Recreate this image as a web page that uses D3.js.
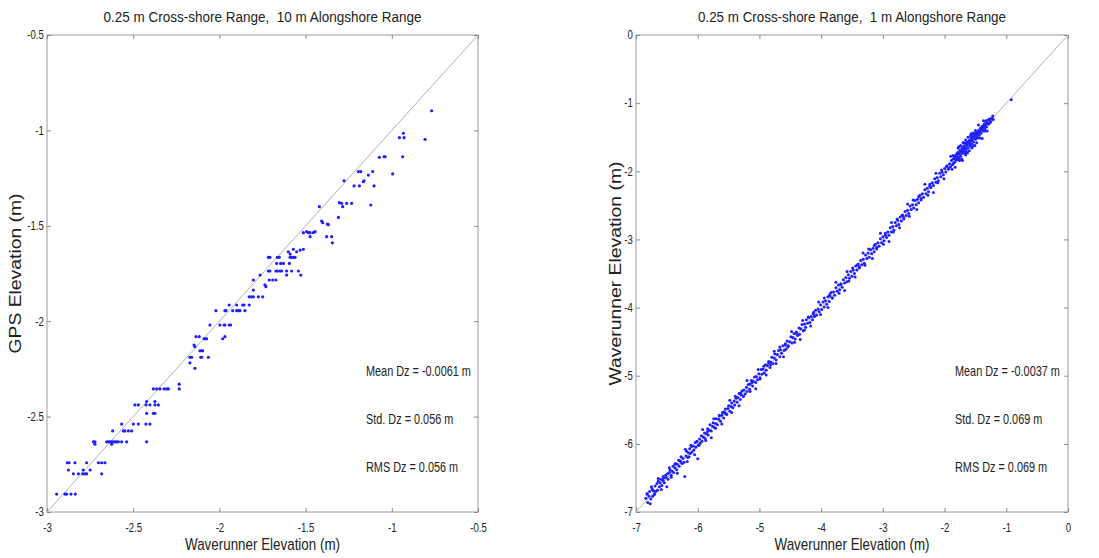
<!DOCTYPE html>
<html>
<head>
<meta charset="utf-8">
<script src="https://cdn.jsdelivr.net/npm/d3@7"></script>
<style>
  body { margin: 0; background: #fff; }
  svg { display: block; font-family: "Liberation Sans", Arial, sans-serif; }
</style>
</head>
<body>
<svg id="chart" width="1099" height="558"></svg>
<script>
const W = 1099, H = 558;

// left panel: GPS vs waverunner, 10 m alongshore window
const leftTicks = [-3, -2.5, -2, -1.5, -1, -0.5];
const leftTitle = '0.25 m Cross-shore Range,  10 m Alongshore Range';
const leftYLabel = 'GPS Elevation (m)';
const leftStats = ['Mean Dz = -0.0061 m', 'Std. Dz = 0.056 m', 'RMS Dz = 0.056 m'];
const leftPoints = [
  [-2.944,-2.906],[-2.896,-2.906],[-2.886,-2.906],[-2.861,-2.906],[-2.836,-2.906],
  [-2.847,-2.80],[-2.818,-2.80],[-2.793,-2.80],[-2.780,-2.80],[-2.770,-2.80],[-2.683,-2.80],
  [-2.876,-2.78],[-2.790,-2.78],[-2.750,-2.78],
  [-2.882,-2.742],[-2.872,-2.742],[-2.838,-2.742],[-2.770,-2.742],[-2.702,-2.742],[-2.683,-2.742],[-2.664,-2.742],
  [-2.722,-2.645],[-2.625,-2.645],
  [-2.731,-2.632],[-2.722,-2.632],[-2.654,-2.632],[-2.644,-2.632],[-2.635,-2.632],[-2.625,-2.632],[-2.615,-2.632],
  [-2.606,-2.632],[-2.596,-2.632],[-2.586,-2.632],[-2.567,-2.632],[-2.538,-2.632],[-2.422,-2.632],
  [-2.619,-2.575],[-2.557,-2.575],[-2.548,-2.575],[-2.528,-2.575],[-2.509,-2.575],
  [-2.567,-2.539],[-2.499,-2.539],[-2.470,-2.539],[-2.426,-2.539],[-2.403,-2.539],
  [-2.422,-2.483],[-2.383,-2.483],[-2.374,-2.483],
  [-2.490,-2.439],[-2.470,-2.439],[-2.426,-2.439],[-2.403,-2.439],[-2.374,-2.439],[-2.354,-2.439],
  [-2.422,-2.421],[-2.374,-2.421],
  [-2.383,-2.355],[-2.364,-2.355],[-2.345,-2.355],[-2.321,-2.355],[-2.306,-2.355],[-2.296,-2.355],[-2.233,-2.355],
  [-2.233,-2.33],[-2.142,-2.247],[-2.171,-2.218],
  [-2.171,-2.189],[-2.161,-2.189],[-2.108,-2.189],[-2.103,-2.189],[-2.064,-2.189],
  [-2.113,-2.155],[-2.103,-2.155],[-2.097,-2.155],[-2.142,-2.134],[-2.147,-2.125],
  [-2.089,-2.092],[-2.078,-2.092],[-2.074,-2.092],[-1.981,-2.092],
  [-2.136,-2.081],[-2.117,-2.081],[-1.968,-2.081],
  [-2.055,-2.02],[-1.997,-2.02],[-1.973,-2.02],[-1.968,-2.02],[-1.943,-2.02],[-1.935,-2.02],
  [-2.020,-1.945],[-1.968,-1.945],[-1.962,-1.945],[-1.923,-1.945],[-1.900,-1.945],[-1.890,-1.945],[-1.881,-1.945],[-1.852,-1.945],
  [-1.943,-1.915],[-1.900,-1.915],[-1.865,-1.915],[-1.857,-1.915],[-1.827,-1.915],
  [-1.827,-1.872],[-1.813,-1.872],[-1.803,-1.872],[-1.774,-1.872],[-1.749,-1.872],
  [-1.803,-1.837],[-1.736,-1.81],[-1.730,-1.819],
  [-1.803,-1.784],[-1.711,-1.784],[-1.691,-1.784],[-1.672,-1.784],
  [-1.764,-1.758],[-1.610,-1.758],[-1.528,-1.758],
  [-1.716,-1.737],[-1.707,-1.737],[-1.672,-1.737],[-1.664,-1.737],[-1.649,-1.737],[-1.639,-1.737],[-1.610,-1.737],[-1.581,-1.737],[-1.542,-1.737],
  [-1.668,-1.697],[-1.645,-1.697],[-1.629,-1.697],[-1.594,-1.697],
  [-1.716,-1.665],[-1.707,-1.665],[-1.664,-1.665],[-1.653,-1.665],[-1.590,-1.665],[-1.581,-1.665],[-1.571,-1.665],[-1.561,-1.665],
  [-1.600,-1.636],[-1.590,-1.648],[-1.571,-1.623],[-1.552,-1.636],[-1.532,-1.627],[-1.513,-1.623],
  [-1.345,-1.589],[-1.378,-1.557],[-1.349,-1.557],[-1.474,-1.557],
  [-1.513,-1.536],[-1.484,-1.536],[-1.455,-1.536],[-1.474,-1.536],[-1.494,-1.531],[-1.445,-1.531],
  [-1.368,-1.494],[-1.374,-1.491],[-1.401,-1.484],[-1.407,-1.475],[-1.310,-1.456],
  [-1.420,-1.40],[-1.285,-1.40],
  [-1.304,-1.379],[-1.291,-1.382],[-1.262,-1.382],[-1.233,-1.382],[-1.122,-1.391],
  [-1.219,-1.291],[-1.188,-1.291],[-1.103,-1.291],
  [-1.277,-1.264],[-1.161,-1.264],[-1.165,-1.269],
  [-1.136,-1.234],[-0.995,-1.228],
  [-1.194,-1.216],[-1.180,-1.216],[-1.111,-1.216],
  [-1.072,-1.141],[-1.045,-1.138],[-1.039,-1.138],[-0.937,-1.138],
  [-0.956,-1.038],[-0.929,-1.038],[-0.807,-1.047],[-0.933,-1.015],
  [-0.769,-0.897]
];

// right panel: waverunner vs waverunner, 1 m alongshore window
const rightTicks = [-7, -6, -5, -4, -3, -2, -1, 0];
const rightTitle = '0.25 m Cross-shore Range,  1 m Alongshore Range';
const rightYLabel = 'Waverunner Elevation (m)';
const rightStats = ['Mean Dz = -0.0037 m', 'Std. Dz = 0.069 m', 'RMS Dz = 0.069 m'];
const rightPoints = [
  [-6.84,-6.80],[-6.82,-6.74],[-6.81,-6.86],[-6.79,-6.77],[-6.78,-6.70],[-6.76,-6.81],[-6.75,-6.63],[-6.74,-6.66],
  [-6.73,-6.77],[-6.71,-6.69],[-6.70,-6.74],[-6.69,-6.62],[-6.68,-6.70],[-6.66,-6.58],[-6.65,-6.68],[-6.64,-6.55],
  [-6.62,-6.63],[-6.61,-6.57],[-6.60,-6.52],[-6.58,-6.61],[-6.57,-6.53],[-6.56,-6.48],[-6.55,-6.50],[-6.54,-6.57],
  [-6.52,-6.46],[-6.51,-6.49],[-6.49,-6.44],[-6.48,-6.52],[-6.46,-6.42],[-6.45,-6.38],[-6.43,-6.46],[-6.42,-6.40],
  [-6.40,-6.33],[-6.39,-6.42],[-6.37,-6.35],[-6.36,-6.29],[-6.34,-6.38],[-6.33,-6.30],[-6.31,-6.24],[-6.30,-6.33],
  [-6.28,-6.25],[-6.27,-6.19],[-6.25,-6.29],[-6.24,-6.21],[-6.22,-6.27],[-6.21,-6.48],[-6.19,-6.18],[-6.18,-6.11],
  [-6.16,-6.20],[-6.15,-6.13],[-6.14,-6.19],[-6.13,-6.07],[-6.12,-6.14],[-6.10,-6.04],[-6.09,-6.12],[-6.07,-6.03],
  [-6.06,-6.09],[-6.04,-5.98],[-6.03,-6.05],[-6.01,-5.96],[-6.00,-6.22],
  [-5.99,-6.02],[-5.97,-5.93],[-5.96,-5.99],[-5.94,-5.88],[-5.93,-5.96],[-5.91,-5.90],[-5.89,-5.84],[-5.88,-5.92],
  [-5.86,-5.85],[-5.84,-5.78],[-5.83,-5.87],[-5.81,-5.80],[-5.80,-5.72],[-5.78,-5.81],[-5.76,-5.74],[-5.75,-5.69],
  [-5.73,-5.76],[-5.71,-5.70],[-5.70,-5.63],[-5.68,-5.72],[-5.66,-5.64],[-5.65,-5.59],[-5.63,-5.67],[-5.61,-5.58],
  [-5.60,-5.54],[-5.58,-5.62],[-5.56,-5.55],[-5.55,-5.49],[-5.53,-5.57],[-5.51,-5.48],[-5.50,-5.44],[-5.48,-5.52],
  [-5.46,-5.45],[-5.45,-5.40],[-5.43,-5.47],[-5.41,-5.37],[-5.40,-5.43],[-5.38,-5.33],[-5.36,-5.39],[-5.35,-5.32],
  [-5.33,-5.26],[-5.31,-5.35],[-5.30,-5.28],[-5.28,-5.22],[-5.26,-5.30],[-5.25,-5.21],[-5.23,-5.27],[-5.21,-5.17],
  [-5.20,-5.23],[-5.18,-5.13],[-5.16,-5.20],[-5.15,-5.12],[-5.13,-5.07],[-5.11,-5.15],[-5.10,-5.08],[-5.08,-5.02],
  [-5.06,-5.10],[-5.05,-5.01],[-5.03,-5.06],[-5.01,-4.97],
  [-4.99,-5.03],[-4.97,-4.91],[-4.96,-4.98],[-4.94,-4.90],[-4.92,-4.96],[-4.90,-4.84],[-4.89,-4.92],[-4.87,-4.85],
  [-4.85,-4.79],[-4.83,-4.88],[-4.82,-4.80],[-4.80,-4.73],[-4.78,-4.82],[-4.76,-4.74],[-4.75,-4.68],[-4.73,-4.77],
  [-4.71,-4.69],[-4.69,-4.63],[-4.67,-4.72],[-4.66,-4.62],[-4.64,-4.67],[-4.62,-4.56],[-4.60,-4.63],[-4.58,-4.55],
  [-4.57,-4.61],[-4.55,-4.49],[-4.53,-4.56],[-4.51,-4.50],[-4.49,-4.43],[-4.47,-4.52],[-4.46,-4.44],[-4.44,-4.38],
  [-4.42,-4.46],[-4.40,-4.36],[-4.38,-4.41],[-4.36,-4.30],[-4.35,-4.39],[-4.33,-4.31],[-4.31,-4.25],[-4.29,-4.34],
  [-4.27,-4.24],[-4.25,-4.29],[-4.24,-4.18],[-4.22,-4.23],[-4.20,-4.15],[-4.18,-4.22],[-4.16,-4.13],[-4.14,-4.18],
  [-4.12,-4.07],[-4.11,-4.13],[-4.09,-4.04],[-4.07,-4.11],[-4.05,-4.02],[-4.03,-4.06],[-4.01,-3.96],
  [-3.99,-4.03],[-3.97,-3.92],[-3.95,-3.99],[-3.93,-3.90],[-3.91,-3.95],[-3.89,-3.84],[-3.87,-3.91],[-3.86,-3.83],
  [-3.84,-3.78],[-3.82,-3.86],[-3.80,-3.77],[-3.78,-3.82],[-3.76,-3.71],[-3.74,-3.76],[-3.72,-3.67],[-3.70,-3.74],
  [-3.68,-3.65],[-3.66,-3.70],[-3.64,-3.59],[-3.62,-3.64],[-3.60,-3.56],[-3.58,-3.62],[-3.56,-3.52],[-3.54,-3.57],
  [-3.52,-3.47],[-3.50,-3.54],[-3.48,-3.45],[-3.46,-3.50],[-3.44,-3.39],[-3.42,-3.45],[-3.40,-3.36],[-3.38,-3.42],
  [-3.36,-3.31],[-3.34,-3.37],[-3.32,-3.29],[-3.30,-3.35],[-3.28,-3.23],[-3.26,-3.28],[-3.24,-3.20],[-3.22,-3.26],
  [-3.20,-3.15],[-3.18,-3.21],[-3.16,-3.13],[-3.14,-3.18],[-3.12,-3.07],[-3.10,-3.12],[-3.08,-3.05],[-3.06,-3.10],
  [-3.04,-2.99],[-3.02,-3.05],
  [-3.00,-2.96],[-2.98,-3.02],[-2.96,-2.91],[-2.94,-2.97],[-2.92,-2.89],[-2.90,-2.94],[-2.88,-2.83],[-2.86,-2.89],
  [-2.84,-2.81],[-2.82,-2.86],[-2.80,-2.75],[-2.78,-2.80],[-2.76,-2.72],[-2.74,-2.78],[-2.72,-2.67],[-2.70,-2.73],
  [-2.68,-2.64],[-2.66,-2.70],[-2.64,-2.59],[-2.62,-2.65],[-2.60,-2.57],[-2.58,-2.62],[-2.56,-2.51],[-2.54,-2.56],
  [-2.52,-2.49],[-2.50,-2.54],[-2.48,-2.43],[-2.46,-2.49],[-2.44,-2.41],[-2.42,-2.46],[-2.40,-2.35],[-2.38,-2.40],
  [-2.36,-2.33],[-2.34,-2.38],[-2.32,-2.27],[-2.30,-2.33],[-2.28,-2.25],[-2.26,-2.30],[-2.24,-2.19],[-2.22,-2.24],
  [-2.20,-2.17],[-2.18,-2.21],[-2.16,-2.11],[-2.14,-2.16],[-2.12,-2.09],[-2.10,-2.14],[-2.08,-2.03],[-2.06,-2.08],
  [-2.04,-2.01],[-2.02,-2.05],
  [-2.00,-1.96],[-1.98,-2.01],[-1.96,-1.92],[-1.94,-1.97],[-1.92,-1.89],[-1.90,-1.93],[-1.89,-1.84],[-1.87,-1.90],
  [-1.86,-1.82],[-1.85,-1.88],[-1.84,-1.79],[-1.83,-1.86],[-1.82,-1.77],[-1.81,-1.83],[-1.80,-1.74],[-1.79,-1.81],
  [-1.78,-1.72],[-1.77,-1.80],[-1.76,-1.75],[-1.75,-1.69],[-1.74,-1.78],[-1.73,-1.71],[-1.72,-1.66],[-1.71,-1.74],
  [-1.70,-1.68],[-1.69,-1.63],[-1.68,-1.71],[-1.67,-1.65],[-1.66,-1.60],[-1.65,-1.68],[-1.64,-1.62],[-1.63,-1.57],
  [-1.62,-1.66],[-1.61,-1.59],[-1.60,-1.55],[-1.59,-1.63],[-1.58,-1.56],[-1.57,-1.51],[-1.56,-1.60],[-1.55,-1.53],
  [-1.54,-1.49],[-1.53,-1.57],[-1.52,-1.50],[-1.51,-1.46],[-1.50,-1.53],[-1.49,-1.47],[-1.48,-1.43],[-1.47,-1.50],
  [-1.46,-1.45],[-1.45,-1.40],[-1.44,-1.47],[-1.43,-1.41],[-1.42,-1.37],[-1.41,-1.44],[-1.40,-1.39],[-1.39,-1.34],
  [-1.38,-1.41],[-1.37,-1.36],[-1.36,-1.31],[-1.35,-1.38],[-1.34,-1.32],[-1.33,-1.28],[-1.32,-1.35],[-1.31,-1.29],
  [-1.30,-1.25],[-1.29,-1.31],[-1.28,-1.24],[-1.27,-1.29],[-1.26,-1.23],[-1.25,-1.27],[-1.23,-1.22],[-1.21,-1.24],
  [-1.78,-1.66],[-1.74,-1.62],[-1.70,-1.58],[-1.66,-1.54],[-1.62,-1.50],[-1.72,-1.82],[-1.66,-1.76],[-1.60,-1.70],
  [-1.56,-1.66],[-1.52,-1.62],[-1.48,-1.58],[-1.58,-1.48],[-1.54,-1.44],[-1.50,-1.40],[-1.76,-1.84],[-1.64,-1.72],
  [-0.92,-0.95]
];
// second pass of the same survey: wider scatter about the 1:1 line
const rightPointsWide = [
  [-6.82,-6.73],[-6.77,-6.88],[-6.73,-6.68],[-6.70,-6.74],[-6.64,-6.51],[-6.59,-6.67],[-6.56,-6.54],[-6.50,-6.63],
  [-6.46,-6.35],[-6.43,-6.49],[-6.37,-6.30],[-6.33,-6.43],[-6.29,-6.25],[-6.26,-6.28],[-6.20,-6.08],[-6.17,-6.26],
  [-6.11,-6.02],[-6.05,-6.16],[-6.02,-5.97],[-5.98,-6.02],[-5.92,-5.79],[-5.87,-5.95],[-5.84,-5.82],[-5.78,-5.91],
  [-5.74,-5.63],[-5.71,-5.77],[-5.65,-5.58],[-5.61,-5.71],[-5.57,-5.53],[-5.54,-5.56],[-5.48,-5.36],[-5.45,-5.54],
  [-5.39,-5.30],[-5.33,-5.44],[-5.30,-5.25],[-5.26,-5.30],[-5.20,-5.07],[-5.15,-5.23],[-5.12,-5.10],[-5.06,-5.19],
  [-5.02,-4.91],[-4.99,-5.05],[-4.93,-4.86],[-4.89,-4.99],[-4.85,-4.81],[-4.82,-4.84],[-4.76,-4.64],[-4.73,-4.82],
  [-4.67,-4.58],[-4.61,-4.72],[-4.58,-4.53],[-4.54,-4.58],[-4.48,-4.35],[-4.43,-4.51],[-4.40,-4.38],[-4.34,-4.47],
  [-4.30,-4.19],[-4.27,-4.33],[-4.21,-4.14],[-4.17,-4.27],[-4.13,-4.09],[-4.10,-4.12],[-4.04,-3.92],[-4.01,-4.10],
  [-3.95,-3.86],[-3.89,-4.00],[-3.86,-3.81],[-3.82,-3.86],[-3.76,-3.63],[-3.71,-3.79],[-3.68,-3.66],[-3.62,-3.75],
  [-3.58,-3.47],[-3.55,-3.61],[-3.49,-3.42],[-3.45,-3.55],[-3.41,-3.37],[-3.38,-3.40],[-3.32,-3.20],[-3.29,-3.38],
  [-3.23,-3.14],[-3.17,-3.28],[-3.14,-3.09],[-3.10,-3.14],[-3.04,-2.91],[-2.99,-3.07],[-2.96,-2.94],[-2.90,-3.03],
  [-2.86,-2.75],[-2.83,-2.89],[-2.77,-2.70],[-2.73,-2.83],[-2.69,-2.65],[-2.66,-2.68],[-2.60,-2.48],[-2.57,-2.66],
  [-2.51,-2.42],[-2.45,-2.56],[-2.42,-2.37],[-2.38,-2.42],[-2.32,-2.19],[-2.27,-2.35],[-2.24,-2.22],[-2.18,-2.31],
  [-2.14,-2.03],[-2.11,-2.17],[-2.05,-1.98],[-2.01,-2.11],
  [-1.97,-1.93],[-1.93,-1.95],[-1.90,-1.78],[-1.88,-1.97],[-1.86,-1.77],[-1.83,-1.94],[-1.81,-1.76],[-1.79,-1.83],
  [-1.77,-1.64],[-1.75,-1.83],[-1.73,-1.71],[-1.71,-1.84],[-1.69,-1.58],[-1.67,-1.73],[-1.65,-1.58],[-1.63,-1.73],
  [-1.61,-1.57],[-1.59,-1.61],[-1.57,-1.45],[-1.55,-1.64],[-1.53,-1.44],[-1.51,-1.62],[-1.49,-1.44],[-1.47,-1.51],
  [-1.45,-1.32],[-1.43,-1.51],[-1.41,-1.39],[-1.39,-1.52],[-1.37,-1.26],[-1.35,-1.41],[-1.33,-1.26],[-1.31,-1.41],
  [-1.28,-1.24],[-1.26,-1.28],[-1.22,-1.19],
  [-1.84,-1.81],[-1.80,-1.78],[-1.76,-1.73],[-1.72,-1.70],[-1.68,-1.66],[-1.64,-1.60],[-1.60,-1.58],[-1.56,-1.54],
  [-1.52,-1.47],[-1.48,-1.46],[-1.44,-1.42],[-1.40,-1.36],[-1.36,-1.34],[-1.32,-1.30]
];

const xLabel = 'Waverunner Elevation (m)';

const panels = [
  { ticks: leftTicks, points: leftPoints, title: leftTitle, yLabel: leftYLabel, stats: leftStats,
    left: 47, right: 478, titleW: 318, yLabelW: 160, yLabelX: 21, statX: 366, r: 1.6 },
  { ticks: rightTicks, points: rightPoints.concat(rightPointsWide), title: rightTitle, yLabel: rightYLabel, stats: rightStats,
    left: 636, right: 1068, titleW: 308, yLabelW: 224, yLabelX: 621, statX: 955, r: 1.5 }
];

const plotTop = 35, plotBottom = 512;
const svg = d3.select('#chart');

panels.forEach(p => {
  const dom = d3.extent(p.ticks);
  const x = d3.scaleLinear().domain(dom).range([p.left, p.right]);
  const y = d3.scaleLinear().domain(dom).range([plotBottom, plotTop]);
  const g = svg.append('g');
  const fmt = d => String(d);

  // box
  g.append('rect')
    .attr('x', p.left).attr('y', plotTop)
    .attr('width', p.right - p.left).attr('height', plotBottom - plotTop)
    .attr('fill', 'none').attr('stroke', '#9a9a9a').attr('stroke-width', 1);

  // axes with inward ticks
  const xAx = g.append('g').attr('transform', `translate(0,${plotBottom})`)
    .call(d3.axisBottom(x).tickValues(p.ticks).tickSizeInner(-4).tickSizeOuter(0).tickPadding(11).tickFormat(fmt));
  g.append('g').attr('transform', `translate(0,${plotTop})`)
    .call(d3.axisTop(x).tickValues(p.ticks).tickSizeInner(-4).tickSizeOuter(0).tickFormat(''));
  const yAx = g.append('g').attr('transform', `translate(${p.left},0)`)
    .call(d3.axisLeft(y).tickValues(p.ticks).tickSizeInner(-4).tickSizeOuter(0).tickPadding(4).tickFormat(fmt));
  g.append('g').attr('transform', `translate(${p.right},0)`)
    .call(d3.axisRight(y).tickValues(p.ticks).tickSizeInner(-4).tickSizeOuter(0).tickFormat(''));

  g.selectAll('.domain').remove();
  g.selectAll('.tick line').attr('stroke', '#888');
  g.selectAll('.tick text').attr('fill', '#222').style('font-size', '12px');
  // squeeze glyphs horizontally like the source image
  xAx.selectAll('.tick text').attr('transform', 'scale(0.8,1)');
  yAx.selectAll('.tick text').attr('transform', 'scale(0.8,1)');

  // 1:1 line
  g.append('line')
    .attr('x1', x(dom[0])).attr('y1', y(dom[0]))
    .attr('x2', x(dom[1])).attr('y2', y(dom[1]))
    .attr('stroke', '#b0b0b0').attr('stroke-width', 1);

  // points
  g.append('g').selectAll('circle')
    .data(p.points)
    .join('circle')
    .attr('cx', d => x(d[0]))
    .attr('cy', d => y(d[1]))
    .attr('r', p.r)
    .attr('fill', '#1f1fff');

  // title
  g.append('text')
    .attr('x', (p.left + p.right) / 2).attr('y', 22)
    .attr('text-anchor', 'middle')
    .attr('textLength', p.titleW).attr('lengthAdjust', 'spacingAndGlyphs')
    .style('white-space', 'pre')
    .style('font-size', '14px').attr('fill', '#222')
    .text(p.title);

  // x label
  g.append('text')
    .attr('x', (p.left + p.right) / 2).attr('y', 550)
    .attr('text-anchor', 'middle')
    .attr('textLength', 155).attr('lengthAdjust', 'spacingAndGlyphs')
    .style('font-size', '17px').attr('fill', '#222')
    .text(xLabel);

  // y label
  g.append('text')
    .attr('transform', `translate(${p.yLabelX},${(plotTop + plotBottom) / 2}) rotate(-90)`)
    .attr('text-anchor', 'middle')
    .attr('textLength', p.yLabelW).attr('lengthAdjust', 'spacingAndGlyphs')
    .style('font-size', '16px').attr('fill', '#222')
    .text(p.yLabel);

  // stats, narrowed to the source's condensed lettering
  g.selectAll('.stat')
    .data(p.stats)
    .join('text')
    .attr('class', 'stat')
    .attr('x', p.statX)
    .attr('y', (d, i) => 376 + i * 48)
    .style('font-size', '14.5px').attr('fill', '#222')
    .text(d => d)
    .each(function () {
      const len = this.getComputedTextLength();
      d3.select(this).attr('textLength', len * 0.75).attr('lengthAdjust', 'spacingAndGlyphs');
    });
});
</script>
</body>
</html>
